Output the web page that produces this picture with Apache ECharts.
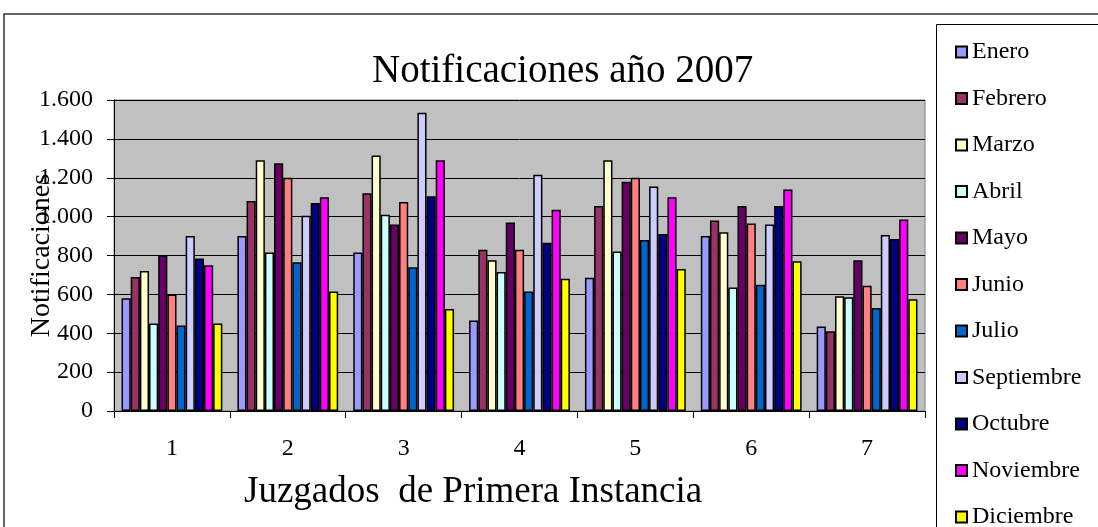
<!DOCTYPE html>
<html lang="es">

<head>
    <meta charset="UTF-8">
    <title>Notificaciones año 2007</title>
    <script src="https://cdn.jsdelivr.net/npm/echarts@6/dist/echarts.min.js"></script>
    <style>
        html, body { margin: 0; padding: 0; background: #fff; }
        #main { width: 1098px; height: 527px; }
    </style>
</head>

<body>
    <div id="main"></div>
    <script>
        // juzgados (categorías del eje x)
        const juzgados = ['1', '2', '3', '4', '5', '6', '7'];
        const meses = ['Enero', 'Febrero', 'Marzo', 'Abril', 'Mayo', 'Junio', 'Julio',
            'Septiembre', 'Octubre', 'Noviembre', 'Diciembre'];
        const colores = ['#9999FF', '#993366', '#FFFFCC', '#CCFFFF', '#660066', '#FF8080',
            '#0066CC', '#CCCCFF', '#000080', '#FF00FF', '#FFFF00'];

        // valores, uno por juzgado
        const enero = [580, 900, 815, 465, 685, 900, 435];
        const febrero = [690, 1080, 1120, 830, 1055, 980, 410];
        const marzo = [720, 1290, 1315, 775, 1290, 920, 590];
        const abril = [450, 815, 1010, 715, 820, 635, 585];
        const mayo = [800, 1275, 960, 970, 1180, 1055, 775];
        const junio = [600, 1200, 1075, 830, 1200, 965, 645];
        const julio = [440, 765, 740, 615, 880, 650, 530];
        const septiembre = [900, 1005, 1535, 1215, 1155, 960, 905];
        const octubre = [785, 1070, 1105, 865, 910, 1055, 885];
        const noviembre = [750, 1100, 1290, 1035, 1100, 1140, 985];
        const diciembre = [450, 615, 525, 680, 730, 770, 575];

        const datos = [enero, febrero, marzo, abril, mayo, junio, julio,
            septiembre, octubre, noviembre, diciembre];

        const fuente = '"Liberation Serif", "Times New Roman", serif';

        let myChart = echarts.init(document.getElementById('main'));

        let option = {
            animation: false,
            textStyle: { fontFamily: fuente, color: '#000' },
            title: [
                {
                    text: 'Notificaciones año 2007',
                    left: 367,
                    top: 47,
                    textStyle: { fontFamily: fuente, fontSize: 39, fontWeight: 'normal', color: '#000' }
                },
                {
                    text: 'Juzgados  de Primera Instancia',
                    left: 239,
                    top: 469,
                    textStyle: { fontFamily: fuente, fontSize: 37, fontWeight: 'normal', color: '#000' }
                }
            ],
            graphic: [
                // marco exterior
                {
                    type: 'rect',
                    shape: { x: 4, y: 14, width: 1200, height: 600 },
                    style: { fill: 'none', stroke: '#333', lineWidth: 1.5 },
                    silent: true
                },
                // marco de la leyenda
                {
                    type: 'rect',
                    shape: { x: 936.5, y: 24.5, width: 300, height: 600 },
                    style: { fill: 'none', stroke: '#000', lineWidth: 1 },
                    silent: true
                }
            ],
            legend: {
                orient: 'vertical',
                left: 950,
                top: 35,
                height: 600,
                icon: 'rect',
                itemWidth: 11,
                itemHeight: 11,
                itemGap: 22.5,
                textStyle: { fontFamily: fuente, fontSize: 24, color: '#000', lineHeight: 24 },
                data: meses
            },
            grid: {
                left: 114,
                right: 173,
                top: 100,
                bottom: 116,
                show: true,
                backgroundColor: '#C0C0C0',
                borderColor: '#808080',
                borderWidth: 1
            },
            xAxis: {
                type: 'category',
                data: juzgados,
                axisLine: { lineStyle: { color: '#000', width: 1 } },
                axisTick: { show: true, length: 7, lineStyle: { color: '#000' } },
                axisLabel: { fontFamily: fuente, fontSize: 24, color: '#000', margin: 26 }
            },
            yAxis: {
                type: 'value',
                min: 0,
                max: 1600,
                interval: 200,
                name: 'Notificaciones',
                nameLocation: 'middle',
                nameGap: 58,
                nameMoveOverlap: false,
                nameTextStyle: { fontFamily: fuente, fontSize: 28, color: '#000' },
                axisLine: { show: true, lineStyle: { color: '#000', width: 1 } },
                axisTick: { show: true, length: 7, lineStyle: { color: '#000' } },
                axisLabel: {
                    fontFamily: fuente,
                    fontSize: 24,
                    color: '#000',
                    margin: 21,
                    formatter: function (v) {
                        return String(v).replace(/\B(?=(\d{3})+(?!\d))/g, '.');
                    }
                },
                splitLine: { lineStyle: { color: '#000', width: 1 } }
            },
            series: meses.map(function (m, i) {
                return {
                    name: m,
                    type: 'bar',
                    barGap: '0%',
                    barCategoryGap: '13%',
                    itemStyle: { color: colores[i], borderColor: '#000', borderWidth: 1.5 },
                    data: datos[i]
                };
            })
        };

        myChart.setOption(option);
    </script>
</body>

</html>
